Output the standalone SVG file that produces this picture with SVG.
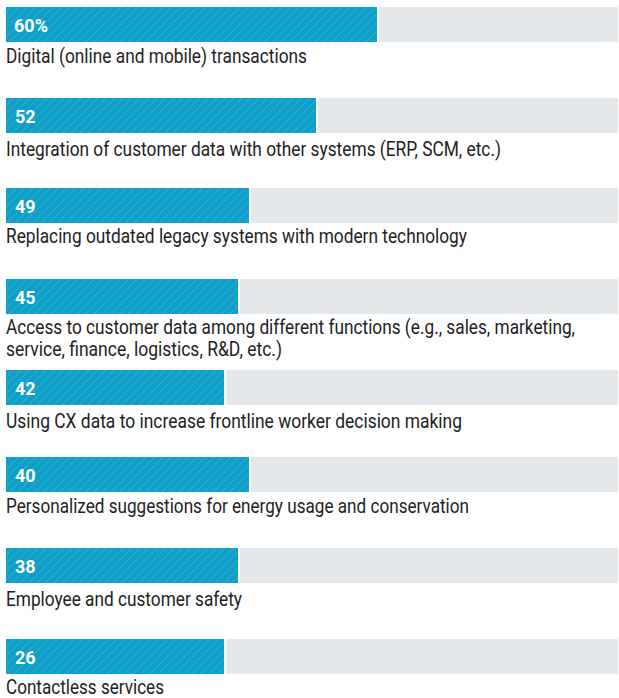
<svg xmlns="http://www.w3.org/2000/svg" width="619" height="698" viewBox="0 0 619 698">
<defs>
<pattern id="hatch" patternUnits="userSpaceOnUse" width="6" height="6" patternTransform="rotate(45)">
<rect width="6" height="6" fill="#0d9fc8"/>
<line x1="0" y1="0" x2="0" y2="6" stroke="#5cc0de" stroke-width="1.1" stroke-dasharray="2 1"/>
</pattern>
</defs>
<style>
.bg{fill:#e5e8eb}
.bar{fill:url(#hatch)}
.val{font-family:Roboto,"Liberation Sans",sans-serif;font-weight:bold;font-size:18px;fill:#ffffff}
.lbl{font-family:Roboto,"Liberation Sans",sans-serif;font-size:20px;fill:#222222}
</style>
<rect width="619" height="698" fill="#ffffff"/>
<g id="item1">
<rect class="bg" x="379" y="7" width="239" height="35"/>
<rect class="bar" x="6" y="7" width="371" height="35"/>
<text class="val" x="14" y="31.5">60%</text>
<text class="lbl" x="6" y="63" textLength="301" lengthAdjust="spacingAndGlyphs">Digital (online and mobile) transactions</text>
</g>
<g id="item2">
<rect class="bg" x="318" y="98" width="300" height="35"/>
<rect class="bar" x="6" y="98" width="310" height="35"/>
<text class="val" x="15" y="122.5">52</text>
<text class="lbl" x="6" y="156" textLength="495" lengthAdjust="spacingAndGlyphs">Integration of customer data with other systems (ERP, SCM, etc.)</text>
</g>
<g id="item3">
<rect class="bg" x="251" y="188" width="367" height="35"/>
<rect class="bar" x="6" y="188" width="243" height="35"/>
<text class="val" x="15" y="212.5">49</text>
<text class="lbl" x="6" y="243" textLength="461" lengthAdjust="spacingAndGlyphs">Replacing outdated legacy systems with modern technology</text>
</g>
<g id="item4">
<rect class="bg" x="240" y="279" width="378" height="35"/>
<rect class="bar" x="6" y="279" width="232" height="35"/>
<text class="val" x="15" y="303.5">45</text>
<text class="lbl" x="6" y="334" textLength="569" lengthAdjust="spacingAndGlyphs">Access to customer data among different functions (e.g., sales, marketing,</text>
<text class="lbl" x="6" y="356" textLength="276" lengthAdjust="spacingAndGlyphs">service, finance, logistics, R&amp;D, etc.)</text>
</g>
<g id="item5">
<rect class="bg" x="226" y="370" width="392" height="35"/>
<rect class="bar" x="6" y="370" width="218" height="35"/>
<text class="val" x="15" y="394.5">42</text>
<text class="lbl" x="6" y="428" textLength="456" lengthAdjust="spacingAndGlyphs">Using CX data to increase frontline worker decision making</text>
</g>
<g id="item6">
<rect class="bg" x="251" y="457" width="367" height="35"/>
<rect class="bar" x="6" y="457" width="243" height="35"/>
<text class="val" x="15" y="481.5">40</text>
<text class="lbl" x="6" y="513" textLength="463" lengthAdjust="spacingAndGlyphs">Personalized suggestions for energy usage and conservation</text>
</g>
<g id="item7">
<rect class="bg" x="240" y="548" width="378" height="35"/>
<rect class="bar" x="6" y="548" width="232" height="35"/>
<text class="val" x="15" y="572.5">38</text>
<text class="lbl" x="6" y="606" textLength="236" lengthAdjust="spacingAndGlyphs">Employee and customer safety</text>
</g>
<g id="item8">
<rect class="bg" x="226" y="639" width="392" height="35"/>
<rect class="bar" x="6" y="639" width="218" height="35"/>
<text class="val" x="15" y="663.5">26</text>
<text class="lbl" x="6" y="694" textLength="158" lengthAdjust="spacingAndGlyphs">Contactless services</text>
</g>
<g id="connectors"/>
</svg>
